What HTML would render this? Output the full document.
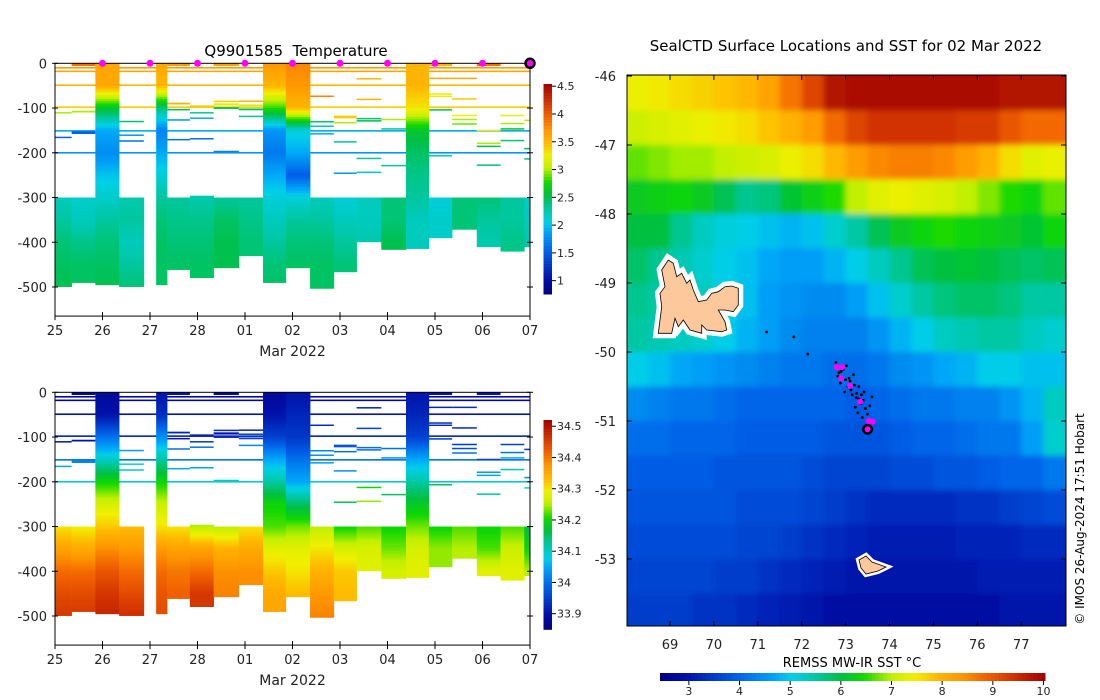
<!DOCTYPE html>
<html><head><meta charset="utf-8"><title>SealCTD</title>
<style>
html,body{margin:0;padding:0;background:#fff;}
svg{display:block;font-family:"DejaVu Sans","Liberation Sans",sans-serif;}
</style></head>
<body>
<svg id="fig" xmlns="http://www.w3.org/2000/svg" width="1100" height="700" viewBox="0 0 1100 700">
<defs>
<clipPath id="mapclip"><rect x="627" y="75" width="439" height="551"/></clipPath>
<filter id="soft" x="-5%" y="-5%" width="110%" height="110%"><feGaussianBlur stdDeviation="3"/></filter>
</defs>
<g id="tempPanel"></g>
<g id="salPanel"></g>
<g id="mapPanel"></g>
<text x="296" y="56" font-size="15" text-anchor="middle">Q9901585&#160; Temperature</text>
<text x="846" y="51" font-size="15" text-anchor="middle">SealCTD Surface Locations and SST for 02 Mar 2022</text>
<text x="852" y="667" font-size="13" text-anchor="middle">REMSS MW-IR SST °C</text>
<text x="0" y="0" font-size="12" text-anchor="middle" transform="translate(1084,519) rotate(-90)">© IMOS 26-Aug-2024 17:51 Hobart</text>
</svg>
<script>
const NS='http://www.w3.org/2000/svg';
const n=null;
// ---- section data ----
const dayLabels=['25','26','27','28','01','02','03','04','05','06','07'];
const colEdges=[0,0.35,0.85,1.35,1.87,2.13,2.36,2.84,3.34,3.87,4.38,4.86,5.37,5.87,6.35,6.87,7.39,7.87,8.36,8.88,9.38,9.88,10.0];
const levels=[0,50,100,150,200,250,300,350,400,450,500];
const topDepth=[300,300,0,300,0,0,300,296,300,300,0,0,300,300,300,300,0,300,300,300,300,300];
const botDepth=[499,490,495,499,0,495,461,479,457,430,490,457,503,466,399,416,414,390,371,410,420,410];
const tempProfiles=[
[n,n,n,n,n,n,2.2,2.3,2.4,2.45,2.5],
[n,n,n,n,n,n,2.15,2.2,2.35,2.45,2.45],
[3.6,3.6,2.6,1.9,1.75,2.0,2.15,2.3,2.4,2.45,2.5],
[n,n,n,n,n,n,2.25,2.3,2.2,2.3,2.4],
null,
[3.6,3.5,2.4,1.7,1.9,2.1,2.3,2.4,2.45,2.45,2.45],
[n,n,n,n,n,n,2.3,2.35,2.4,2.45,n],
[n,n,n,n,n,n,2.25,2.35,2.4,2.45,n],
[n,n,n,n,n,n,2.3,2.45,2.5,2.5,n],
[n,n,n,n,n,n,2.3,2.35,2.4,n,n],
[3.7,3.5,2.8,1.8,1.65,1.9,2.1,2.2,2.3,2.4,2.45],
[3.8,3.7,3.5,2.1,1.9,1.5,2.1,2.3,2.4,2.45,n],
[n,n,n,n,n,n,2.2,2.3,2.4,2.45,2.45],
[n,n,n,n,n,n,2.1,2.2,2.3,2.4,n],
[n,n,n,n,n,n,2.2,2.2,2.25,n,n],
[n,n,n,n,n,n,2.4,2.4,2.5,n,n],
[3.5,3.5,3.3,2.6,2.45,2.35,2.3,2.2,2.2,n,n],
[n,n,n,n,n,n,2.1,2.15,n,n,n],
[n,n,n,n,n,n,2.4,2.4,n,n,n],
[n,n,n,n,n,n,2.4,2.3,2.25,n,n],
[n,n,n,n,n,n,2.3,2.3,2.35,n,n],
[n,n,n,n,n,n,2.15,2.2,2.25,n,n]];
const salProfiles=[
[n,n,n,n,n,n,34.3,34.36,34.41,34.44,34.46],
[n,n,n,n,n,n,34.29,34.35,34.41,34.44,34.46],
[33.88,33.9,34.0,34.1,34.2,34.27,34.32,34.38,34.43,34.46,34.48],
[n,n,n,n,n,n,34.33,34.37,34.41,34.44,34.47],
null,
[33.9,33.93,34.03,34.12,34.2,34.26,34.3,34.37,34.41,34.43,34.44],
[n,n,n,n,n,n,34.3,34.36,34.4,34.42,n],
[n,n,n,n,n,n,34.25,34.36,34.41,34.46,n],
[n,n,n,n,n,n,34.25,34.34,34.38,34.39,n],
[n,n,n,n,n,n,34.3,34.35,34.38,n,n],
[33.88,33.9,33.95,34.05,34.12,34.2,34.22,34.28,34.32,34.35,34.36],
[33.9,33.92,33.94,34.0,34.05,34.15,34.23,34.28,34.3,34.33,n],
[n,n,n,n,n,n,34.25,34.3,34.34,34.37,34.39],
[n,n,n,n,n,n,34.2,34.27,34.32,34.33,n],
[n,n,n,n,n,n,34.22,34.27,34.28,n,n],
[n,n,n,n,n,n,34.2,34.23,34.27,n,n],
[33.9,33.92,33.95,34.05,34.12,34.18,34.23,34.27,34.28,n,n],
[n,n,n,n,n,n,34.2,34.24,n,n,n],
[n,n,n,n,n,n,34.22,34.25,n,n,n],
[n,n,n,n,n,n,34.2,34.22,34.28,n,n],
[n,n,n,n,n,n,34.22,34.26,34.28,n,n],
[n,n,n,n,n,n,34.16,34.2,34.25,n,n]];
const lineDepths=[10,18,49,98,151,200];
const lineTemps=[3.7,3.6,3.5,3.4,1.9,1.8];
const lineSals=[33.88,33.88,33.9,33.92,34.0,34.1];
// [column, depth, thickness(m), temp, sal]
const segments=[
[1,3,6,3.9,33.88],[6,3,6,3.7,33.9],[8,3,6,3.65,33.88],[19,3,6,3.9,33.9],[17,3,6,3.5,33.9],
[1,108,4,3.0,33.9],[1,155,6,1.5,34.02],[3,130,3,2.4,34.04],[3,160,2,1.8,34.08],[3,173,2,1.6,34.1],[0,110,2,3.0,33.9],[0,165,2,1.5,34.05],
[6,90,4,3.5,33.92],[6,103,2,2.5,33.9],[6,126,2,1.8,34.0],[6,170,2,1.6,34.05],[7,95,2,3.4,33.92],[7,110,2,2.3,33.94],[7,122,2,1.9,34.0],[7,168,2,1.6,34.05],
[8,85,3,3.4,33.92],[8,92,5,3.2,33.9],[8,100,4,2.5,33.92],[8,197,3,1.7,34.1],[9,84,2,3.5,33.92],[9,93,2,3.1,33.95],[9,103,4,2.5,33.95],[9,118,2,2.3,34.02],
[12,73,2,3.8,33.93],[12,130,2,2.4,34.02],[12,140,2,2.2,34.03],[12,157,2,1.9,34.04],[13,120,6,3.4,33.97],[13,132,2,3.0,34.0],[13,175,2,2.3,34.03],[13,245,2,1.8,34.15],
[14,34,2,3.5,33.92],[14,80,2,3.5,33.95],[14,123,2,2.4,34.0],[14,128,2,2.5,34.0],[14,212,2,2.3,34.2],[14,243,2,2.2,34.24],[15,125,2,3.0,34.0],[15,146,2,2.3,34.03],[15,228,2,2.3,34.15],
[17,104,3,2.6,33.94],[17,206,2,2.2,34.15],[17,33,2,3.6,33.92],[17,68,2,3.2,33.93],[17,73,2,3.3,33.93],[18,33,2,3.6,33.93],[18,79,2,3.4,33.93],[18,116,2,3.2,33.94],[18,125,2,3.0,33.96],[18,135,2,2.9,34.0],
[19,150,3,3.3,33.95],[19,178,2,3.0,34.04],[19,185,2,2.6,34.05],[19,227,2,2.4,34.12],[20,116,2,3.2,33.95],[20,134,2,3.0,34.0],[20,146,2,2.6,34.05],[20,172,2,2.4,34.12],[21,127,2,3.4,33.94],[21,190,2,2.5,34.03],[21,213,2,2.4,34.1]];
const surfaceDays=[1,2,3,4,5,6,7,8,9];
const lastDay=10;
const depthTicks=[0,-100,-200,-300,-400,-500];
const tempTicks=[4.5,4,3.5,3,2.5,2,1.5,1];
const salTicks=[34.5,34.4,34.3,34.2,34.1,34,33.9];
// ---- map data ----
const mapLons=[68.25,68.75,69.25,69.75,70.25,70.75,71.25,71.75,72.25,72.75,73.25,73.75,74.25,74.75,75.25,75.75,76.25,76.75,77.25,77.75];
const mapLats=[-46.25,-46.75,-47.25,-47.75,-48.25,-48.75,-49.25,-49.75,-50.25,-50.75,-51.25,-51.75,-52.25,-52.75,-53.25,-53.75];
const sstGrid=[
[7.4,7.5,7.6,7.7,7.8,7.9,8.2,8.7,9.2,9.8,9.9,9.9,9.9,9.9,9.9,9.9,9.9,9.8,9.8,9.8],
[7.1,7.2,7.3,7.4,7.5,7.6,7.8,8.0,8.3,8.8,9.2,9.4,9.4,9.4,9.4,9.3,9.3,9.0,8.8,8.8],
[6.7,6.8,6.9,6.9,7.0,7.1,7.2,7.4,7.6,7.9,8.3,8.5,8.6,8.6,8.5,8.3,8.0,7.6,7.3,7.4],
[6.2,6.3,6.4,6.2,5.9,5.6,5.7,6.1,6.3,6.5,7.0,7.3,7.4,7.3,7.2,7.0,6.8,6.5,6.4,6.7],
[6.0,6.0,5.6,5.3,5.1,5.0,4.9,4.8,4.9,5.2,5.5,5.9,6.2,6.4,6.5,6.4,6.3,6.2,6.1,6.4],
[5.8,5.6,5.4,5.2,5.0,4.9,4.7,4.6,4.6,4.8,5.0,5.3,5.6,5.9,6.0,6.1,6.0,5.9,5.8,5.9],
[5.6,5.5,5.5,5.3,5.1,4.9,4.6,4.5,4.4,4.4,4.6,4.9,5.2,5.5,5.7,5.8,5.8,5.7,5.5,5.5],
[5.5,5.4,5.3,5.2,5.0,4.8,4.6,4.4,4.3,4.3,4.3,4.5,4.8,5.0,5.3,5.4,5.5,5.5,5.3,5.2],
[5.0,4.9,4.7,4.6,4.5,4.4,4.3,4.2,4.2,4.1,4.1,4.2,4.4,4.5,4.7,4.8,5.0,5.0,4.9,4.9],
[4.4,4.3,4.2,4.2,4.1,4.0,4.0,4.0,4.0,4.0,3.9,4.0,4.1,4.2,4.2,4.3,4.3,4.5,4.8,5.3],
[4.1,4.1,4.0,4.0,4.0,3.9,3.9,3.9,3.9,3.8,3.8,3.8,3.9,4.0,4.0,4.1,4.2,4.2,4.6,5.2],
[3.9,3.9,3.9,3.9,3.8,3.8,3.8,3.8,3.7,3.6,3.6,3.6,3.7,3.7,3.8,3.8,3.9,4.0,4.0,4.2],
[3.8,3.8,3.8,3.8,3.8,3.7,3.7,3.7,3.6,3.5,3.4,3.3,3.3,3.3,3.3,3.4,3.4,3.5,3.6,3.7],
[3.7,3.7,3.7,3.7,3.7,3.6,3.6,3.5,3.4,3.3,3.2,3.1,3.1,3.1,3.1,3.2,3.2,3.2,3.3,3.3],
[3.6,3.6,3.6,3.6,3.5,3.5,3.4,3.3,3.2,3.1,3.0,3.0,3.0,3.0,3.0,3.0,3.1,3.1,3.1,3.1],
[3.5,3.5,3.5,3.4,3.4,3.3,3.2,3.1,3.0,2.9,2.9,2.9,2.9,2.9,2.9,2.9,2.9,3.0,3.0,3.0]];
const lonTicks=[69,70,71,72,73,74,75,76,77];
const latTicks=[-46,-47,-48,-49,-50,-51,-52,-53];
const sstTicks=[3,4,5,6,7,8,9,10];
const surfLons=[72.80,72.92,72.90,73.10,73.33,73.53,73.62];
const surfLats=[-50.22,-50.22,-50.38,-50.49,-50.72,-51.00,-51.01];
const trackLons=[71.20,71.82,72.14,72.78,72.85,72.95,73.0,72.88,72.82,73.05,73.12,73.2,73.15,73.25,73.3,73.35,73.22,73.4,73.45,73.1,72.98,73.28,73.5,73.55,73.38,73.6,73.02,73.18,73.42,73.3,72.9,73.08,73.24,73.36];
const trackLats=[-49.71,-49.78,-50.03,-50.15,-50.3,-50.25,-50.4,-50.45,-50.35,-50.5,-50.55,-50.48,-50.62,-50.6,-50.68,-50.75,-50.8,-50.7,-50.82,-50.42,-50.58,-50.88,-50.9,-50.78,-50.95,-50.65,-50.2,-50.33,-50.58,-50.5,-50.28,-50.38,-50.66,-50.62];
const lastLon=73.50, lastLat=-51.12;

// ---- colormap ----
const stops=[[0,'#000080'],[0.07,'#0010a8'],[0.2,'#0060e8'],[0.3,'#00a8f8'],[0.34,'#00d0e8'],[0.4,'#00c8a8'],[0.47,'#00c040'],[0.53,'#10d800'],[0.6,'#c0f000'],[0.66,'#f0f000'],[0.72,'#ffb800'],[0.78,'#ff9800'],[0.85,'#f06000'],[0.92,'#d03000'],[1,'#a00000']];
function hx(h){return [1,3,5].map(i=>parseInt(h.substr(i,2),16));}
function cmap(f){f=Math.max(0,Math.min(1,f));for(let i=1;i<stops.length;i++){if(f<=stops[i][0]){const a=stops[i-1],b=stops[i];const t=(f-a[0])/(b[0]-a[0]);const ca=hx(a[1]),cb=hx(b[1]);return 'rgb('+ca.map((v,k)=>Math.round(v+(cb[k]-v)*t)).join(',')+')';}}return stops[stops.length-1][1];}
function mk(tag,attrs,parent){const e=document.createElementNS(NS,tag);for(const k in attrs)e.setAttribute(k,attrs[k]);parent.appendChild(e);return e;}

// ---- section panels ----
function drawSection(g,y0,profiles,lineVals,segIdx,vmin,vmax,cbTicks,cbTop,cbBot,markers){
  const xS=d=>55+47.5*d;
  const yS=z=>y0+0.4474*z;
  const col=v=>cmap((v-vmin)/(vmax-vmin));
  const axTop=y0, axBot=y0+0.4474*565;
  lineDepths.forEach((d,i)=>{
    const l=mk('rect',{x:55,y:yS(d)-0.8,width:475,height:1.6,fill:col(lineVals[i])},g);
    
    
  });
  segments.forEach(s=>{
    const c=s[0];
    const r=mk('rect',{x:xS(colEdges[c]),y:yS(s[1]-s[2]/2),width:xS(colEdges[c+1])-xS(colEdges[c]),height:Math.max(1.5,s[2]*0.4474),fill:col(s[segIdx])},g);
    
    
  });
  profiles.forEach((p,c)=>{
    if(!p)return;
    const cg=mk('g',{},g);
    
    
    const x0=xS(colEdges[c]),w=xS(colEdges[c+1])-x0;
    const step=5;
    for(let z=topDepth[c];z<botDepth[c];z+=step){
      const zc=Math.min(z+step/2,500);
      let i=Math.min(9,Math.floor(zc/50));
      let v0=p[i],v1=p[i+1];
      if(v0==null){v0=v1;}
      if(v1==null){v1=v0;}
      if(v0==null)continue;
      const v=v0+(v1-v0)*((zc-levels[i])/50);
      mk('rect',{x:x0,y:yS(z),width:w+0.3,height:Math.min(step,botDepth[c]-z)*0.4474+0.4,fill:col(v)},cg);
    }
  });
  const fr=mk('rect',{x:55,y:axTop,width:475,height:axBot-axTop,fill:'none',stroke:'#000','stroke-width':1},g);
  
  
  depthTicks.forEach(t=>{
    const y=yS(-t);
    mk('line',{x1:52,x2:58,y1:y,y2:y,stroke:'#000'},g);
    mk('line',{x1:527,x2:533,y1:y,y2:y,stroke:'#000'},g);
    const tx=mk('text',{x:47,y:y+5,'font-size':13,'text-anchor':'end',fill:'#222'},g);
    tx.textContent=String(t);
    
    
  });
  dayLabels.forEach((lab,i)=>{
    const x=xS(i);
    mk('line',{x1:x,x2:x,y1:axBot-4,y2:axBot+4,stroke:'#000'},g);
    const tx=mk('text',{x:x,y:axBot+19,'font-size':13,'text-anchor':'middle',fill:'#222'},g);
    tx.textContent=lab;
    
    
  });
  const xl=mk('text',{x:xS(5),y:axBot+40,'font-size':14,'text-anchor':'middle',fill:'#222'},g);
  xl.textContent='Mar 2022';
  
  
  const cb=mk('g',{},g);
  
  
  const H=cbBot-cbTop;
  for(let k=0;k<70;k++){
    const f=1-(k+0.5)/70;
    mk('rect',{x:543.5,y:cbTop+k*H/70,width:8.5,height:H/70+0.5,fill:cmap(f)},cb);
  }
  const cbv=v=>cbBot-(v-vmin)/(vmax-vmin)*H;
  cbTicks.forEach(t=>{
    const y=cbv(t);
    mk('line',{x1:552,x2:556,y1:y,y2:y,stroke:'#000'},cb);
    const tx=mk('text',{x:557,y:y+4,'font-size':11,fill:'#222'},cb);
    tx.textContent=String(t);
    
    
  });
  if(markers){
    surfaceDays.forEach(d=>{
      const m=mk('circle',{cx:xS(d),cy:y0,r:3.5,fill:'#ff00ff'},g);
      
      
    });
    const lm=mk('circle',{cx:xS(lastDay),cy:y0,r:4.5,fill:'#ff00ff',stroke:'#000','stroke-width':2.5},g);
    
    
  }
}
drawSection(document.getElementById('tempPanel'),63.3,tempProfiles,lineTemps,3,0.76,4.54,tempTicks,84,294,true);
drawSection(document.getElementById('salPanel'),392.3,salProfiles,lineSals,4,33.85,34.52,salTicks,420,629.3,false);

// ---- map ----
(function(){
  const g=document.getElementById('mapPanel');
  const xL=lon=>670+43.9*(lon-69);
  const yL=lat=>76-69*(lat+46);
  const smin=2.43,smax=10.03;
  const clipG=mk('g',{'clip-path':'url(#mapclip)'},g);
  const cells=mk('g',{filter:'url(#soft)'},clipG);
  
  
  sstGrid.forEach((row,r)=>{
    row.forEach((v,c)=>{
      let x0=xL(mapLons[c]-0.25),x1=xL(mapLons[c]+0.25),y0=yL(mapLats[r]+0.25),y1=yL(mapLats[r]-0.25);
      if(c===0)x0-=20; if(c===row.length-1)x1+=20;
      if(r===0)y0-=20; if(r===sstGrid.length-1)y1+=20;
      const cell=mk('rect',{x:x0,y:y0,width:x1-x0+0.5,height:y1-y0+0.5,fill:cmap((v-smin)/(smax-smin))},cells);
      
      
    });
  });
  const kp=[[55,280],[65,200],[60,160],[75,140],[65,90],[85,60],[100,70],[110,110],[125,100],[140,130],[150,120],[160,150],[175,185],[200,180],[215,160],[235,155],[255,140],[275,138],[295,145],[295,195],[280,215],[255,210],[235,210],[255,245],[260,270],[245,275],[200,270],[185,255],[185,280],[150,270],[130,240],[115,260],[105,235],[95,280]].map(p=>(640+p[0]/3).toFixed(1)+','+(240+p[1]/3).toFixed(1)).join(' ');
  const kw=mk('polygon',{points:kp,fill:'#fff',stroke:'#fff','stroke-width':10,'stroke-linejoin':'miter'},clipG);
  
  
  const k=mk('polygon',{points:kp,fill:'#fcc89c',stroke:'#000','stroke-width':0.8},clipG);
  
  
  const hp='859,560 866,556 872,562 886,567 878,571 866,574 861,568';
  const hw=mk('polygon',{points:hp,fill:'#fff',stroke:'#fff','stroke-width':6,'stroke-linejoin':'miter'},clipG);
  
  
  const h=mk('polygon',{points:hp,fill:'#fcc89c',stroke:'#000','stroke-width':0.8},clipG);
  
  
  trackLons.forEach((lo,i)=>{
    const d=mk('circle',{cx:xL(lo),cy:yL(trackLats[i]),r:1.4,fill:'#000'},g);
    
    
  });
  surfLons.forEach((lo,i)=>{
    const d=mk('circle',{cx:xL(lo),cy:yL(surfLats[i]),r:3,fill:'#ff00ff'},g);
    
    
  });
  const lc=mk('circle',{cx:xL(lastLon),cy:yL(lastLat),r:4.2,fill:'#ff00ff',stroke:'#000','stroke-width':2.5},g);
  
  
  const fr=mk('rect',{x:627,y:75,width:439,height:551,fill:'none',stroke:'#000','stroke-width':1},g);
  
  
  lonTicks.forEach(t=>{
    const x=xL(t);
    mk('line',{x1:x,x2:x,y1:626,y2:621,stroke:'#000'},g);
    mk('line',{x1:x,x2:x,y1:75,y2:80,stroke:'#000'},g);
    const tx=mk('text',{x:x,y:649,'font-size':13,'text-anchor':'middle',fill:'#222'},g);
    tx.textContent=String(t);
    
    
  });
  latTicks.forEach(t=>{
    const y=yL(t);
    mk('line',{x1:627,x2:632,y1:y,y2:y,stroke:'#000'},g);
    mk('line',{x1:1066,x2:1061,y1:y,y2:y,stroke:'#000'},g);
    const tx=mk('text',{x:616,y:y+5,'font-size':13,'text-anchor':'end',fill:'#222'},g);
    tx.textContent=String(t);
    
    
  });
  const cb=mk('g',{},g);
  
  
  const X0=660,X1=1045,N=100;
  for(let i=0;i<N;i++){
    mk('rect',{x:X0+i*(X1-X0)/N,y:673,width:(X1-X0)/N+0.5,height:8,fill:cmap((i+0.5)/N)},cb);
  }
  sstTicks.forEach(t=>{
    const x=X0+(t-smin)/(smax-smin)*(X1-X0);
    mk('line',{x1:x,x2:x,y1:681,y2:685,stroke:'#000'},cb);
    const tx=mk('text',{x:x,y:695,'font-size':11,'text-anchor':'middle',fill:'#222'},cb);
    tx.textContent=String(t);
    
    
  });
})();
</script>
</body></html>
